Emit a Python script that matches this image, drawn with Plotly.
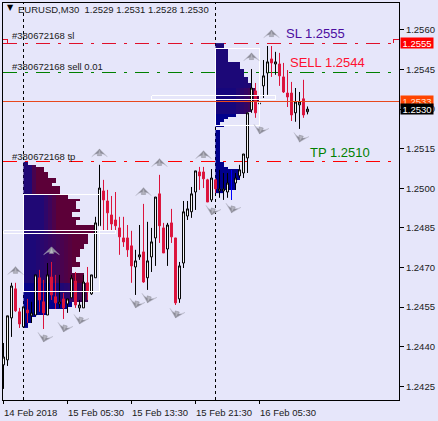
import plotly.graph_objects as go

NaN = float("nan")
BG = "#E6E6FA"

# --- candles (bar index is the position) ---
opens = [1.24331,1.24350,1.24509,1.24619,1.24532,1.24475,1.24539,1.24517,1.24520,1.24661,1.24570,1.24520,1.24664,1.24589,1.24562,1.24581,
         1.24562,1.24585,1.24649,1.24547,1.24547,1.24642,1.24600,1.24661,1.24858,1.24990,1.24952,1.24899,1.24880,1.24850,1.24812,1.24812,
         1.24782,1.24702,1.24740,1.24759,1.24661,1.24740,1.24812,1.24979,1.24850,1.24770,1.24869,1.24812,1.24581,1.24717,1.24895,1.24911,
         1.24986,1.25062,1.25062,1.25032,1.24956,1.25032,1.24990,1.24990,1.24986,NaN,1.25020,1.25047,1.25058,1.25115,
         1.25297,1.25369,1.25320,1.25388,1.25437,1.25490,1.25471,1.25471,1.25422,1.25361,1.25361,1.25286,1.25316,1.25339,1.2529]
highs = [1.24414,1.24517,1.24642,1.24642,1.24547,1.24551,1.24581,1.24570,1.24672,1.24691,1.24653,1.24717,1.24721,1.24672,1.24672,1.24604,
         1.24581,1.24672,1.24683,1.24577,1.24672,1.24702,1.24672,1.24892,1.25089,1.25032,1.24994,1.24971,1.24986,1.24892,1.24892,1.24861,
         1.24839,1.24767,1.24861,1.24941,1.24873,1.24850,1.24967,1.25051,1.24869,1.24869,1.24922,1.24812,1.24721,1.24952,1.24952,1.25005,
         1.25066,1.25081,1.25081,1.25036,1.25073,1.25036,1.25070,1.25058,1.25058,NaN,1.25058,1.25089,1.25130,1.25286,
         1.25452,1.25399,1.25380,1.25486,1.25539,1.25539,1.25517,1.25513,1.25475,1.25448,1.25403,1.25380,1.25365,1.25411,1.2531]
lows = [1.24240,1.24327,1.24437,1.24532,1.24471,1.24471,1.24490,1.24490,1.24520,1.24532,1.24467,1.24520,1.24577,1.24543,1.24547,1.24505,
        1.24528,1.24585,1.24547,1.24532,1.24547,1.24577,1.24596,1.24661,1.24858,1.24842,1.24842,1.24839,1.24839,1.24748,1.24778,1.24740,
        1.24642,1.24596,1.24729,1.24642,1.24615,1.24683,1.24706,1.24793,1.24755,1.24706,1.24793,1.24558,1.24566,1.24698,1.24880,1.24888,
        1.24918,1.24994,1.25001,1.24948,1.24948,1.24983,1.24964,1.24956,1.24964,NaN,1.24994,1.25039,1.25039,1.25058,
        1.25286,1.25267,1.25278,1.25342,1.25354,1.25422,1.25430,1.25388,1.25361,1.25308,1.25255,1.25252,1.25225,1.25267,1.2528]
closes = [1.24361,1.24517,1.24630,1.24536,1.24486,1.24551,1.24528,1.24528,1.24672,1.24577,1.24528,1.24672,1.24596,1.24566,1.24570,1.24547,
          1.24581,1.24661,1.24558,1.24558,1.24645,1.24608,1.24672,1.24869,1.25001,1.24956,1.24907,1.24865,1.24858,1.24816,1.24797,1.24767,
          1.24706,1.24725,1.24748,1.24645,1.24725,1.24797,1.24967,1.24858,1.24755,1.24861,1.24816,1.24566,1.24706,1.24911,1.24922,1.24979,
          1.25066,1.25047,1.25036,1.24948,1.25039,1.24998,1.24998,1.24998,1.25020,NaN,1.25039,1.25070,1.25130,1.25286,
          1.25380,1.25286,1.25322,1.25426,1.25479,1.25475,1.25479,1.25426,1.25365,1.25346,1.25278,1.25327,1.25327,1.25278,1.2530]
bar_index = list(range(len(opens)))

# one candle drawn as a blue wick
blue_bar = [57, 57]
blue_wick = [1.25070, 1.24956]

# --- volume profiles: ticks per 0.0001 price level, from the top level down ---
left_top = 1.2510
left_start_bar = 5
left_counts = [1,3,5,5,6,6,8,8,7,9,9,9,11,11,14,13,13,13,14,12,12,14,13,13,18,18,18,16,16,16,16,15,15,14,14,14,13,13,14,14,12,12,15,15,15,15,16,16,16,16,16,16,16,12,12,11,6,6,3,2,2,1,1]
left_fade_from = [1]*12 + [4]*15 + [2]*19 + [6]*7 + [20]*10
left_fade_span = [1.5]*12 + [4]*15 + [10]*19 + [12]*7 + [20]*10
left_base = [.3]*12 + [.3]*15 + [.25]*19 + [.05]*7 + [0]*10

right_top = 1.2555
right_start_bar = 53
right_counts = [2,2,3,3,3,3,3,6,6,6,7,7,7,8,8,9,9,10,10,10,11,11,9,9,9,9,8,5,3,2,1,2,0,1,1,1,1,1,1,1,1,1,1,1,1,2,2,3,6,6,6,6,5,5,5,5,2]
right_fade_from = [6]*17 + [4]*10 + [20]*30
right_fade_span = [30]*17 + [7]*10 + [30]*30
right_base = [.25]*17 + [.2]*10 + [0]*30

# value-area boxes and point-of-control boxes
box_left = ([5, 24], [1.24977, 1.24609])
poc_left = ([0, 28], [1.24840, 1.24830])
box_right = ([53, 64], [1.25530, 1.25238])
poc_right = ([37, 68], [1.25350, 1.25336])

# --- turning point arrows (tip prices) ---
up_bars = [3, 12, 24, 35, 39, 50, 62, 67]
up_prices = [1.24703, 1.24778, 1.25149, 1.25002, 1.25112, 1.25142, 1.25513, 1.25600]
down_bars = [10, 15, 19, 33, 36, 43, 52, 57, 64, 74]
down_prices = [1.24418, 1.24456, 1.24486, 1.24547, 1.24566, 1.24509, 1.24899, 1.24907, 1.25206, 1.25175]

# --- levels ---
sl_level, sell_level, tp_level, ask_level, bid_level = 1.2555, 1.2544, 1.2510, 1.2533, 1.2530
sl_flag_right = ([97.4, 97.4, 98.8], [1.2555, 1.25562, 1.25562])
sl_flag_left = ([-0.1, 1.0, 1.0], [1.25562, 1.25562, 1.2555])
v_lines = [5, 53]
title_text = "EURUSD,M30  1.2529 1.2531 1.2528 1.2530"
y_ticks = [1.2425, 1.2440, 1.2455, 1.2470, 1.2485, 1.2500, 1.2515, 1.2530, 1.2545, 1.2560]
x_ticks = [0, 16, 32, 48, 64]
x_labels = ["14 Feb 2018", "15 Feb 05:30", "15 Feb 13:30", "15 Feb 21:30", "16 Feb 05:30"]

FONT = "Liberation Sans"
SCALE = [[0, "#00008C"], [.25, "#1C0878"], [.6, "#3A0560"], [1, "#5C0038"]]


def profile(top, start, counts, fade_from, fade_span, base):
    n = max(counts)
    xe = [start + c for c in range(n + 1)]
    ye = [top - r * 0.0001 for r in range(len(counts) + 1)]
    z = []
    for r, cnt in enumerate(counts):
        row = []
        for c in range(n):
            if c < cnt:
                t = min(1, max(0, (c - fade_from[r]) / fade_span[r]))
                row.append(base[r] + (1 - base[r]) * t)
            else:
                row.append(None)
        z.append(row)
    return go.Heatmap(x=xe, y=ye, z=z, zmin=0, zmax=1, colorscale=SCALE, showscale=False,
                      hoverinfo="skip", zsmooth=False)


def box(xs, ys):
    return go.Scatter(x=[xs[0], xs[1], xs[1], xs[0], xs[0]], y=[ys[0], ys[0], ys[1], ys[1], ys[0]],
                      mode="lines", line=dict(color="white", width=1), hoverinfo="skip", showlegend=False)


fig = go.Figure()
fig.add_trace(profile(left_top, left_start_bar, left_counts, left_fade_from, left_fade_span, left_base))
fig.add_trace(profile(right_top, right_start_bar, right_counts, right_fade_from, right_fade_span, right_base))
for b in (box_left, poc_left, box_right, poc_right):
    fig.add_trace(box(*b))
for f in (sl_flag_right, sl_flag_left):
    fig.add_trace(go.Scatter(x=f[0], y=f[1], mode="lines", line=dict(color="#E0102A", width=1),
                             hoverinfo="skip", showlegend=False))

fig.add_trace(go.Candlestick(
    x=bar_index, open=opens, high=highs, low=lows, close=closes,
    increasing=dict(line=dict(color="black", width=1), fillcolor="white"),
    decreasing=dict(line=dict(color="#DC143C", width=1), fillcolor="#DC143C"),
    whiskerwidth=0, showlegend=False, hoverinfo="skip"))
fig.add_trace(go.Scatter(x=blue_bar, y=blue_wick, mode="lines", line=dict(color="#0000FF", width=1),
                         showlegend=False, hoverinfo="skip"))

for xs, ys, ang in ((up_bars, up_prices, 0), (down_bars, down_prices, 195)):
    fig.add_trace(go.Scatter(x=xs, y=ys, mode="markers", showlegend=False, hoverinfo="skip",
                             marker=dict(symbol="arrow-wide", angle=ang, size=11, color="#8A8A96",
                                         line=dict(color="#B8B8C8", width=0.5))))
    fig.add_trace(go.Scatter(x=xs, y=ys, mode="markers", showlegend=False, hoverinfo="skip",
                             marker=dict(symbol="arrow", angle=ang, size=7, color="#B4B4C0",
                                         line=dict(color="#8A8A96", width=0.5))))

for lvl, col in ((sl_level, "#E0102A"), (sell_level, "#008000"), (tp_level, "#FF0000")):
    fig.add_shape(type="line", xref="paper", x0=0, x1=1, y0=lvl, y1=lvl, layer="below",
                  line=dict(color=col, width=1, dash="14px,8px,3px,8px"))
for v in v_lines:
    fig.add_shape(type="line", yref="paper", y0=0, y1=1, x0=v, x1=v, layer="below",
                  line=dict(color="black", width=1, dash="3px,3px"))
fig.add_shape(type="line", xref="paper", x0=0, x1=1, y0=ask_level, y1=ask_level, layer="above",
              line=dict(color="#E8481C", width=1))

def note(x, y, text, color, size, yshift=0, xanchor="left", **kw):
    fig.add_annotation(x=x, y=y, text=text, showarrow=False, xanchor=xanchor, yanchor="middle", yshift=yshift,
                       font=dict(family=FONT, size=size, color=color), **kw)

note(1.6, sl_level, "#380672168 sl", "#202020", 9.5, yshift=8)
note(1.6, sell_level, "#380672168 sell 0.01", "#202020", 9.5, yshift=6)
note(1.6, tp_level, "#380672168 tp", "#202020", 9.5, yshift=5)
note(70.1, sl_level, "SL 1.2555", "#4B0DA0", 13, yshift=10)
note(71.1, sell_level, "SELL 1.2544", "#FF1030", 13, yshift=10)
note(76.1, tp_level, "TP 1.2510", "#008000", 13, yshift=9)

for lvl, bg, fg in ((sl_level, "#FF0000", "white"), (ask_level, "#FF4500", "#FFE0D0"), (bid_level, "black", "white")):
    fig.add_annotation(xref="paper", x=1.003, y=lvl, text="%.4f" % lvl, showarrow=False, xanchor="left", yanchor="middle",
                       bgcolor=bg, borderpad=0, width=32, height=10, font=dict(family=FONT, size=9.5, color=fg))

fig.add_annotation(xref="paper", yref="paper", x=0.005, y=0.9875, text="▼", showarrow=False, xanchor="left", yanchor="middle",
                   font=dict(family="DejaVu Sans", size=8, color="black"))
fig.add_annotation(xref="paper", yref="paper", x=0.033, y=0.9825, text=title_text, showarrow=False, xanchor="left", yanchor="middle",
                   font=dict(family=FONT, size=9.5, color="#202020"))
for t, lab in zip(x_ticks, x_labels):
    fig.add_annotation(x=t, yref="paper", y=-0.012, text=lab, showarrow=False, xanchor="left", yanchor="top", xshift=-2,
                       font=dict(family=FONT, size=9.5, color="#202020"))

fig.update_layout(
    width=438, height=421, margin=dict(l=3, r=39, t=3, b=21, pad=0),
    paper_bgcolor=BG, plot_bgcolor=BG, showlegend=False,
    font=dict(family=FONT, size=9.5, color="#202020"),
    xaxis=dict(range=[-0.125, 98.875], rangeslider=dict(visible=False), showgrid=False, zeroline=False,
               tickmode="array", tickvals=x_ticks, ticktext=[""] * len(x_ticks), ticks="outside", ticklen=3, tickcolor="black",
               showline=True, mirror=True, linecolor="black", linewidth=1),
    yaxis=dict(range=[1.24198, 1.25702], side="right", showgrid=False, zeroline=False,
               tickmode="array", tickvals=y_ticks, ticktext=["%.4f" % v for v in y_ticks], ticks="outside", ticklen=4, tickcolor="black",
               showline=True, mirror=True, linecolor="black", linewidth=1),
)
post = ("document.body.style.margin='0';document.body.style.background='%s';"
        "document.querySelectorAll('.shapelayer path,.scatterlayer .js-line').forEach(function(p){p.style.shapeRendering='crispEdges';});" % BG)
fig.write_html("out.html", post_script=post, config=dict(displayModeBar=False, responsive=False))
